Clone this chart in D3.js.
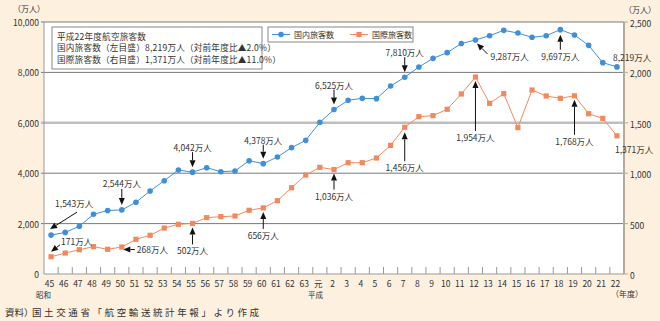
<!DOCTYPE html>
<html>
<head>
<meta charset="utf-8">
<script src="https://cdn.jsdelivr.net/npm/d3@7"></script>
<style>
  body { margin: 0; background: #fdf0df; }
  svg text { font-family: "Noto Sans CJK JP", sans-serif; fill: #333; }
</style>
</head>
<body>
<svg id="chart" width="660" height="321"></svg>
<script>
// --- data (万人) ---
const years = ["45","46","47","48","49","50","51","52","53","54","55","56","57","58","59","60","61","62","63",
  "元","2","3","4","5","6","7","8","9","10","11","12","13","14","15","16","17","18","19","20","21","22"];
const domestic = [1543,1650,1893,2369,2520,2544,2845,3294,3703,4127,4042,4218,4060,4087,4497,4378,4643,5013,5304,
  6019,6525,6892,6971,6958,7460,7810,8214,8558,8783,9145,9287,9457,9668,9563,9392,9457,9697,9484,9074,8386,8219];
const international = [171,208,241,271,245,268,344,384,456,493,502,559,569,575,632,656,727,856,982,
  1058,1036,1104,1104,1151,1276,1456,1561,1571,1634,1786,1954,1693,1789,1452,1825,1766,1743,1768,1590,1544,1371];
const leftTicks = [0, 2000, 4000, 6000, 8000, 10000];
const rightTicks = [0, 500, 1000, 1500, 2000, 2500];
const domMarked = ["45","50","55","60","2","7","12","18","22"];
const intlMarked = ["45","50","55","60","2","7","12","19","22"];
const seriesNames = ["国内旅客数", "国際旅客数"];
const infoLines = [
  "平成22年度航空旅客数",
  "国内旅客数（左目盛）8,219万人（対前年度比▲2.0%）",
  "国際旅客数（右目盛）1,371万人（対前年度比▲11.0%）"
];

const blue = "#3f8fd8", orange = "#f2895e";
const svg = d3.select("#chart");
const L = 44, R = 624, T = 22, B = 274;

const x = d3.scaleBand().domain(years).range([L, R]);
const cx = d => x(d) + x.bandwidth() / 2;
const yL = d3.scaleLinear().domain([0, 10000]).range([B, T]);
const yR = d3.scaleLinear().domain([0, 2500]).range([B, T]);
const fmt = d3.format(",");

// plot background
svg.append("rect").attr("x", L).attr("y", T).attr("width", R - L).attr("height", B - T).attr("fill", "#fff");

// grid
svg.selectAll(".grid").data(leftTicks.filter(t => t > 0)).join("line")
  .attr("x1", L - 3).attr("x2", R)
  .attr("y1", d => yL(d)).attr("y2", d => yL(d))
  .attr("stroke", d => d === 6000 ? "#bdbdbd" : "#7a7a7a")
  .attr("stroke-width", d => d === 6000 ? 2.5 : 1);

// left axis
svg.append("line").attr("x1", L).attr("x2", L).attr("y1", T).attr("y2", B).attr("stroke", "#999");
svg.selectAll(".lt").data(leftTicks).join("text")
  .attr("x", 39).attr("y", d => yL(d)).attr("text-anchor", "end").attr("dominant-baseline", "central")
  .attr("font-size", 8.5).text(d => fmt(d));
svg.append("text").attr("x", 13).attr("y", 8).attr("dominant-baseline", "central").attr("font-size", 8).text("（万人）");

// right axis
svg.append("line").attr("x1", R).attr("x2", R).attr("y1", T).attr("y2", B).attr("stroke", "#b4aa9c").attr("stroke-width", 2);
svg.selectAll(".rtk").data(rightTicks).join("line")
  .attr("x1", R).attr("x2", R + 4).attr("y1", d => yR(d)).attr("y2", d => yR(d)).attr("stroke", "#b4aa9c");
svg.selectAll(".rt").data(rightTicks).join("text")
  .attr("x", 630).attr("y", d => yR(d) + 1).attr("dominant-baseline", "central")
  .attr("font-size", 8.5).text(d => fmt(d));
svg.append("text").attr("x", 624).attr("y", 9).attr("dominant-baseline", "central").attr("font-size", 8).text("（万人）");

// bottom axis
svg.append("line").attr("x1", L).attr("x2", R).attr("y1", B).attr("y2", B).attr("stroke", "#999");
svg.selectAll(".xt").data(years.slice(1)).join("line")
  .attr("x1", d => x(d)).attr("x2", d => x(d)).attr("y1", B).attr("y2", B - 7).attr("stroke", "#999");
svg.selectAll(".xl").data(years).join("text")
  .attr("x", d => cx(d) - 1.5).attr("y", 283).attr("text-anchor", "middle").attr("dominant-baseline", "central")
  .attr("font-size", 8.5).text(d => d);
svg.append("text").attr("x", 36).attr("y", 294).attr("dominant-baseline", "central").attr("font-size", 7.5).text("昭和");
svg.append("text").attr("x", 308).attr("y", 294).attr("dominant-baseline", "central").attr("font-size", 7.5).text("平成");
svg.append("text").attr("x", 611).attr("y", 293).attr("dominant-baseline", "central").attr("font-size", 8).text("（年度）");

// series
const lineL = d3.line().x((d, i) => cx(years[i])).y(d => yL(d));
const lineR = d3.line().x((d, i) => cx(years[i])).y(d => yR(d));
svg.append("path").attr("d", lineR(international)).attr("fill", "none").attr("stroke", orange).attr("stroke-width", 1);
svg.selectAll(".sq").data(international).join("rect")
  .attr("x", (d, i) => cx(years[i]) - 2.6).attr("y", d => yR(d) - 2.6)
  .attr("width", 5.2).attr("height", 5.2).attr("fill", orange);
svg.append("path").attr("d", lineL(domestic)).attr("fill", "none").attr("stroke", blue).attr("stroke-width", 1);
svg.selectAll(".dot").data(domestic).join("circle")
  .attr("cx", (d, i) => cx(years[i])).attr("cy", d => yL(d)).attr("r", 2.8).attr("fill", blue);

// annotations
function arrow(x1, y1, x2, y2) {
  const a = Math.atan2(y2 - y1, x2 - x1), len = 7, w = 3;
  const bx = x2 - len * Math.cos(a), by = y2 - len * Math.sin(a);
  svg.append("line").attr("x1", x1).attr("y1", y1).attr("x2", bx).attr("y2", by).attr("stroke", "#111").attr("stroke-width", 1);
  svg.append("path").attr("fill", "#111").attr("d",
    `M${x2},${y2}L${bx + w * Math.sin(a)},${by - w * Math.cos(a)}L${bx - w * Math.sin(a)},${by + w * Math.cos(a)}Z`);
}
// placement relative to the data point: text (dx, dy, anchor), arrow from (a1) to (a2)
const domLayout = {
  "45": {dx: 4, dy: -32, anchor: "start", a: [26, -23, -1, -6]},
  "50": {dx: 0, dy: -27, anchor: "middle", a: [0, -21, 0, -5]},
  "55": {dx: 0, dy: -25, anchor: "middle", a: [0, -20, 0, -5]},
  "60": {dx: 0, dy: -24, anchor: "middle", a: [0, -19, 0, -5]},
  "2":  {dx: 0, dy: -25, anchor: "middle", a: [0, -20, 0, -5]},
  "7":  {dx: 0, dy: -25, anchor: "middle", a: [0, -20, 0, -5]},
  "12": {dx: 15, dy: 16, anchor: "start", a: [12, 14, 1.5, 3.5]},
  "18": {dx: 0, dy: 26, anchor: "middle", a: [0, 20, 0, 5]},
  "22": {dx: -4, dy: -10, anchor: "start", a: null}
};
const intlLayout = {
  "45": {dx: 10, dy: -16, anchor: "start", a: [9, -12, 0, -5]},
  "50": {dx: 15, dy: 2.5, anchor: "start", a: [13, 2.5, 1.5, 2.5]},
  "55": {dx: 0, dy: 27, anchor: "middle", a: [0, 21, 0, 4]},
  "60": {dx: 0, dy: 27, anchor: "middle", a: [0, 21, 0, 4]},
  "2":  {dx: 0, dy: 26, anchor: "middle", a: [0, 20, 0, 4]},
  "7":  {dx: 0, dy: 40, anchor: "middle", a: [0, 34, 0, 5]},
  "12": {dx: 0, dy: 60, anchor: "middle", a: [0, 54, 0, 4]},
  "19": {dx: 0, dy: 45, anchor: "middle", a: [0, 39, 0, 4]},
  "22": {dx: -2, dy: 13, anchor: "start", a: null}
};
function annotate(marked, values, scale, layout) {
  marked.forEach(k => {
    const i = years.indexOf(k), px = cx(k), py = scale(values[i]), o = layout[k];
    svg.append("text").attr("x", px + o.dx).attr("y", py + o.dy).attr("text-anchor", o.anchor)
      .attr("dominant-baseline", "central").attr("font-size", 8.5).text(fmt(values[i]) + "万人");
    if (o.a) arrow(px + o.a[0], py + o.a[1], px + o.a[2], py + o.a[3]);
  });
}
annotate(domMarked, domestic, yL, domLayout);
annotate(intlMarked, international, yR, intlLayout);

// info box
svg.append("rect").attr("x", 52).attr("y", 27).attr("width", 210).attr("height", 42)
  .attr("fill", "#fff").attr("stroke", "#888");
svg.selectAll(".info").data(infoLines).join("text")
  .attr("x", 57).attr("y", (d, i) => 35.5 + i * 11.5).attr("dominant-baseline", "central")
  .attr("font-size", 8.6).attr("letter-spacing", 0.2).text(d => d);

// legend
svg.append("rect").attr("x", 268).attr("y", 27).attr("width", 145).attr("height", 15)
  .attr("fill", "#fff").attr("stroke", "#888");
const lg = [{x: 272, c: blue}, {x: 350, c: orange}];
lg.forEach((l, i) => {
  svg.append("line").attr("x1", l.x).attr("x2", l.x + 18).attr("y1", 34.5).attr("y2", 34.5).attr("stroke", l.c);
  if (i === 0) svg.append("circle").attr("cx", l.x + 9).attr("cy", 34.5).attr("r", 2.8).attr("fill", l.c);
  else svg.append("rect").attr("x", l.x + 6.4).attr("y", 31.9).attr("width", 5.2).attr("height", 5.2).attr("fill", l.c);
  svg.append("text").attr("x", l.x + 22).attr("y", 34.5).attr("dominant-baseline", "central")
    .attr("font-size", 8).text(seriesNames[i]);
});

// source
svg.append("text").attr("x", 5).attr("y", 312).attr("dominant-baseline", "central").attr("font-size", 9.5).text("資料）");
svg.append("text").attr("x", 32).attr("y", 312).attr("dominant-baseline", "central").attr("font-size", 9.5)
  .attr("letter-spacing", 2.6).text("国土交通省「航空輸送統計年報」より作成");
</script>
</body>
</html>
